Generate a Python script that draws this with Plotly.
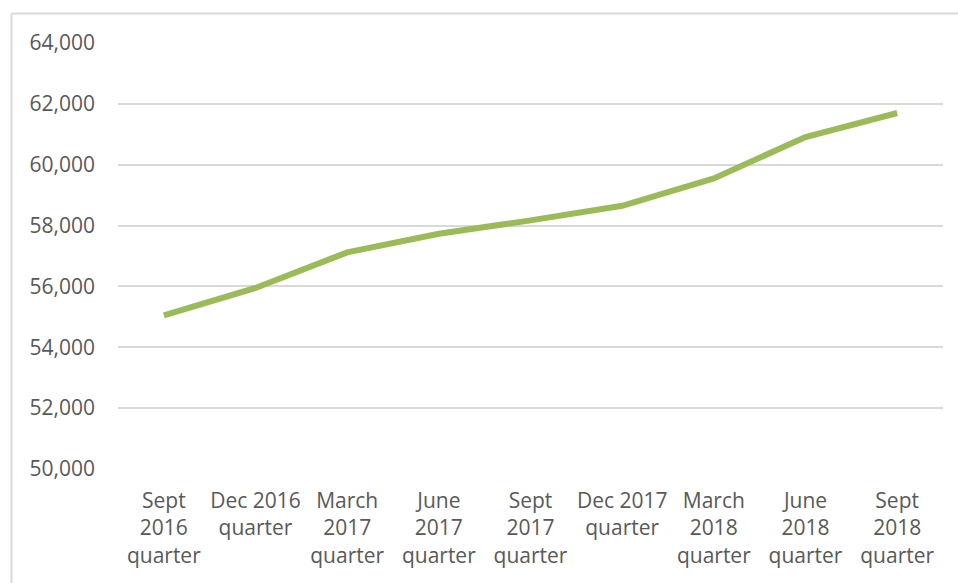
import plotly.graph_objects as go

# Quarterly series
quarters = [
    "Sept<br>2016<br>quarter",
    "Dec 2016<br>quarter",
    "March<br>2017<br>quarter",
    "June<br>2017<br>quarter",
    "Sept<br>2017<br>quarter",
    "Dec 2017<br>quarter",
    "March<br>2018<br>quarter",
    "June<br>2018<br>quarter",
    "Sept<br>2018<br>quarter",
]
values = [55050, 55950, 57120, 57730, 58170, 58650, 59550, 60910, 61700]
y_ticks = [50000, 52000, 54000, 56000, 58000, 60000, 62000, 64000]

W, H = 958, 583
L, R, T, B = 118, 15, 43, 114

font_family = "Open Sans, Lato, sans-serif"
text_grey = "#595959"
grid_grey = "#D9D9D9"

fig = go.Figure()
fig.add_trace(go.Scatter(
    x=list(range(len(quarters))),
    y=values,
    mode="lines",
    line=dict(color="#9BBB59", width=6, shape="linear"),
    hoverinfo="skip",
))

# Chart-area frame (left and top edges)
pw, ph = W - L - R, H - T - B
fx = (11.5 - L) / pw
fy = (H - B - 13.5) / ph
fig.add_shape(type="line", xref="paper", yref="paper",
              x0=fx, x1=fx, y0=fy, y1=(H - B - H - 5) / ph,
              line=dict(color=grid_grey, width=2))
fig.add_shape(type="line", xref="paper", yref="paper",
              x0=fx, x1=(W + 5 - L) / pw, y0=fy, y1=fy,
              line=dict(color=grid_grey, width=2))

fig.update_layout(
    width=W, height=H,
    margin=dict(l=L, r=R, t=T, b=B, pad=0),
    paper_bgcolor="white",
    plot_bgcolor="white",
    showlegend=False,
    font=dict(family=font_family, size=21, color=text_grey),
    xaxis=dict(
        range=[-0.5, len(quarters) - 0.5],
        tickmode="array",
        tickvals=list(range(len(quarters))),
        ticktext=quarters,
        showgrid=False,
        zeroline=False,
        showline=False,
        ticks="",
        ticklabelstandoff=17,
        tickfont=dict(family=font_family, size=21, color=text_grey),
        fixedrange=True,
    ),
    yaxis=dict(
        range=[50000, 64000],
        tickmode="array",
        tickvals=y_ticks,
        ticktext=[f"{v:,}" for v in y_ticks],
        showgrid=True,
        gridcolor=grid_grey,
        gridwidth=1.5,
        zeroline=False,
        showline=False,
        ticks="",
        ticklabelstandoff=22,
        tickfont=dict(family=font_family, size=21, color=text_grey),
        fixedrange=True,
    ),
)

fig.write_html("out.html")
